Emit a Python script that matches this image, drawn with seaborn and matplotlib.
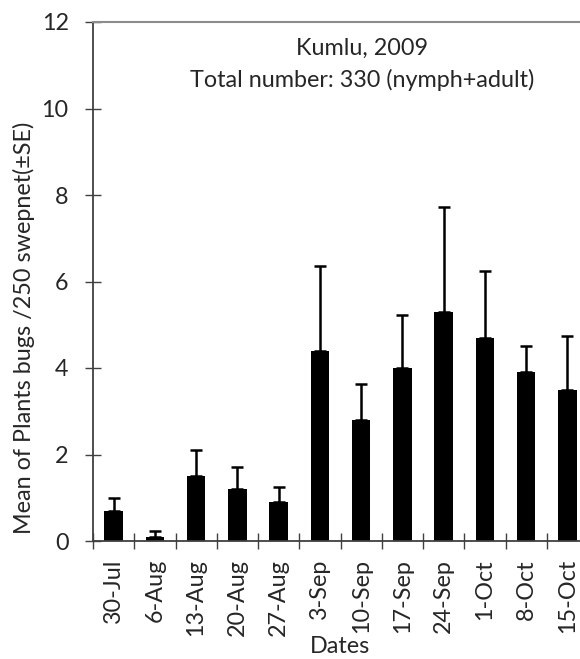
import matplotlib
matplotlib.use("Agg")
import matplotlib.pyplot as plt
import seaborn as sns
import numpy as np
import pandas as pd
from matplotlib.ticker import FixedLocator, MultipleLocator

dates = ["30-Jul", "6-Aug", "13-Aug", "20-Aug", "27-Aug", "3-Sep",
         "10-Sep", "17-Sep", "24-Sep", "1-Oct", "8-Oct", "15-Oct"]
means = [0.7, 0.1, 1.5, 1.2, 0.9, 4.4, 2.8, 4.0, 5.3, 4.7, 3.9, 3.5]
se = [0.3, 0.12, 0.6, 0.5, 0.35, 1.95, 0.82, 1.23, 2.42, 1.54, 0.6, 1.24]
title1 = "Kumlu, 2009"
title2 = "Total number: 330 (nymph+adult)"
ylabel = "Mean of Plants bugs /250 swepnet(\u00b1SE)"
xlabel = "Dates"

df = pd.DataFrame({"date": dates, "mean": means, "se": se})

sns.set_theme(style="white")
plt.rcParams["font.family"] = ["Lato", "DejaVu Sans"]

FS = 16.8

fig = plt.figure(figsize=(5.8, 6.59), dpi=100)
ax = fig.add_axes([93 / 580, 1 - 541 / 659, (588 - 93) / 580, (541 - 22) / 659])

sns.barplot(data=df, x="date", y="mean", color="black", width=0.45,
            saturation=1, ax=ax, errorbar=None)
for p in ax.patches:
    p.set_edgecolor("black")
    p.set_linewidth(0)

xpos = np.arange(len(dates))
ax.errorbar(xpos, df["mean"], yerr=[np.zeros(len(dates)), df["se"]],
            fmt="none", ecolor="black", elinewidth=1.8, capsize=4.5,
            capthick=1.8, zorder=3)

ax.set_ylim(0, 12)
ax.set_xlim(-0.5, len(dates) - 0.5)
ax.yaxis.set_major_locator(MultipleLocator(2))
ax.tick_params(axis="y", which="major", direction="inout", length=11,
               width=1, color="#404040", labelsize=FS, pad=12, left=True)
ax.xaxis.set_minor_locator(FixedLocator(np.arange(-0.5, len(dates), 1.0)))
ax.tick_params(axis="x", which="major", length=0, labelsize=FS, pad=13,
               labelrotation=90)
ax.tick_params(axis="x", which="minor", direction="inout", length=12,
               width=1, color="#404040", bottom=True)

for s in ["left", "bottom"]:
    ax.spines[s].set_color("#404040")
    ax.spines[s].set_linewidth(1.3)
ax.spines["top"].set_color("#8c8c8c")
ax.spines["top"].set_linewidth(1.5)
ax.spines["right"].set_visible(False)

ax.set_ylabel(ylabel, fontsize=FS)
ax.yaxis.set_label_coords(-0.117, 0.41)
ax.set_xlabel(xlabel, fontsize=FS, labelpad=0)

ax.text(362 / 580, 1 - 48 / 659, title1, transform=fig.transFigure,
        ha="center", va="center", fontsize=FS)
ax.text(362 / 580, 1 - 80 / 659, title2, transform=fig.transFigure,
        ha="center", va="center", fontsize=FS)

fig.savefig("out.png", dpi=100)
